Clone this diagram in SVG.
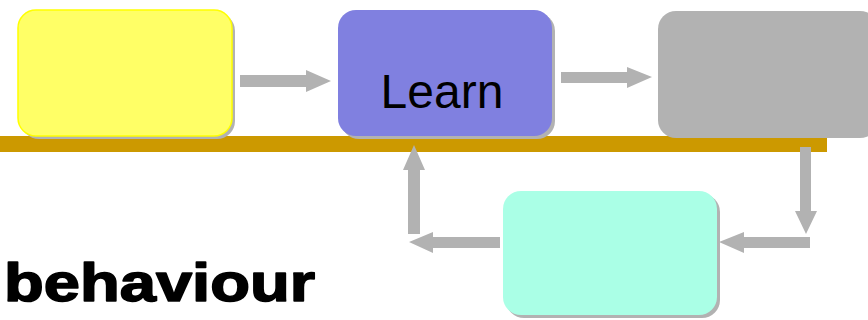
<svg xmlns="http://www.w3.org/2000/svg" width="868" height="320" viewBox="0 0 868 320">
<style>
.sh{fill:#B2B2B2}
.arr{fill:#B2B2B2}
.lbl{font-family:"Liberation Sans",Arial,sans-serif;fill:#000}
</style>
<rect width="868" height="320" fill="#fff"/>
<rect x="0" y="136" width="827" height="16" fill="#CC9900"/>
<g id="connectors">
<polygon class="arr" points="240,75 306,75 306,70 331,81 306,92 306,87 240,87"/>
<polygon class="arr" points="561,72 627,72 627,67 652,77 627,88 627,83 561,83"/>
<polygon class="arr" points="800,147 811,147 811,211 817,211 806,234 795,211 800,211"/>
<polygon class="arr" points="810,237 810,248 744,248 744,253 719,242 744,232 744,237"/>
<polygon class="arr" points="500,237 500,248 433,248 433,253 409,242 433,232 433,237"/>
<polygon class="arr" points="408,234 420,234 420,170 425,170 414,145 403,170 408,170"/>
</g>
<g id="node-yellow">
<rect class="sh" x="21" y="13" width="214" height="126" rx="18"/>
<rect x="18" y="10" width="214" height="126" rx="18" fill="#FFFF66" stroke="#FFFF00" stroke-width="1.5"/>
</g>
<g id="node-learn">
<rect class="sh" x="341" y="13" width="214" height="126" rx="18"/>
<rect x="338" y="10" width="214" height="126" rx="18" fill="#8080E0"/>
<text class="lbl" x="442" y="108" font-size="48" text-anchor="middle">Learn</text>
</g>
<g id="node-gray">
<rect x="658" y="11" width="220" height="127" rx="18" fill="#B2B2B2"/>
</g>
<g id="node-cyan">
<rect class="sh" x="506" y="194" width="214" height="124" rx="18"/>
<rect x="503" y="191" width="214" height="124" rx="18" fill="#AAFFE6"/>
</g>
<text class="lbl" x="4" y="301" font-size="54" font-weight="bold" stroke="#000" stroke-width="1.6" stroke-linejoin="round" textLength="311" lengthAdjust="spacingAndGlyphs">behaviour</text>
</svg>
